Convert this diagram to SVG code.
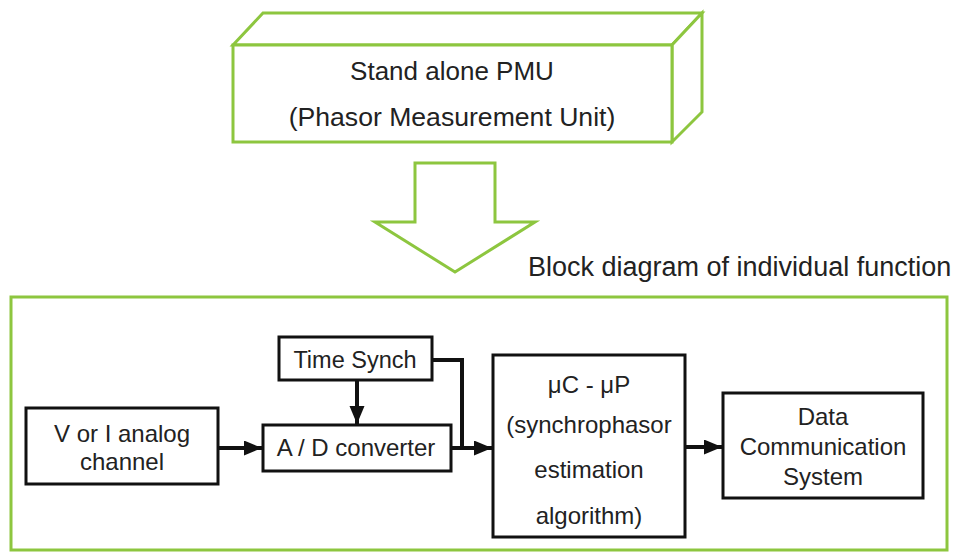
<svg xmlns="http://www.w3.org/2000/svg" width="955" height="552" viewBox="0 0 955 552">
<style>
.g{fill:#fff;stroke:#8dc63f;stroke-width:3;stroke-linejoin:miter}
.b{fill:#fff;stroke:#111;stroke-width:3}
.t{font-family:"Liberation Sans",Arial,sans-serif;fill:#222;text-anchor:middle}
.c{fill:none;stroke:#111;stroke-width:4}
</style>
<defs>
<marker id="ah" markerUnits="userSpaceOnUse" markerWidth="19" markerHeight="16" refX="18" refY="7.5" orient="auto">
<path d="M0,0 L18,7.5 L0,15 z" fill="#111"/>
</marker>
</defs>
<rect width="955" height="552" fill="#fff"/>
<g id="pmu">
<polygon class="g" points="233,45 263,13 702,13 672,45"/>
<polygon class="g" points="672,45 702,13 702,112 672,142"/>
<rect class="g" x="233" y="45" width="439" height="97"/>
<text class="t" x="452" y="80" font-size="26">Stand alone PMU</text>
<text class="t" x="452" y="126" font-size="26.6">(Phasor Measurement Unit)</text>
</g>
<g id="bigarrow">
<polygon class="g" points="415,163 495,163 495,222 535,222 455,272 375,222 415,222"/>
</g>
<g id="frame">
<rect class="g" x="11" y="297" width="936" height="253"/>
<text x="528" y="276" font-size="27" font-family="Liberation Sans,Arial,sans-serif" fill="#222">Block diagram of individual function</text>
</g>
<g id="timesynch">
<rect class="b" x="279" y="337" width="153" height="43"/>
<text class="t" x="355" y="368" font-size="23.5">Time Synch</text>
</g>
<g id="analog">
<rect class="b" x="26" y="408" width="192" height="76"/>
<text class="t" x="122" y="442" font-size="24">V or I analog</text>
<text class="t" x="122" y="470" font-size="24">channel</text>
</g>
<g id="adc">
<rect class="b" x="263" y="425" width="188" height="46"/>
<text class="t" x="356" y="456" font-size="24">A / D converter</text>
</g>
<g id="muc">
<rect class="b" x="493" y="355" width="192" height="182"/>
<text class="t" x="589" y="393" font-size="24">μC - μP</text>
<text class="t" x="589" y="433" font-size="24">(synchrophasor</text>
<text class="t" x="589" y="478" font-size="24">estimation</text>
<text class="t" x="589" y="524" font-size="24">algorithm)</text>
</g>
<g id="datacomm">
<rect class="b" x="723" y="393" width="200" height="105"/>
<text class="t" x="823" y="425" font-size="24">Data</text>
<text class="t" x="823" y="455" font-size="24">Communication</text>
<text class="t" x="823" y="485" font-size="24">System</text>
</g>
<g id="connectors">
<line class="c" x1="218" y1="448" x2="262" y2="448" marker-end="url(#ah)"/>
<line class="c" x1="357" y1="380" x2="357" y2="424" marker-end="url(#ah)"/>
<polyline class="c" points="432,360 462,360 462,448"/>
<line class="c" x1="451" y1="448" x2="492" y2="448" marker-end="url(#ah)"/>
<line class="c" x1="685" y1="447" x2="722" y2="447" marker-end="url(#ah)"/>
</g>
</svg>
